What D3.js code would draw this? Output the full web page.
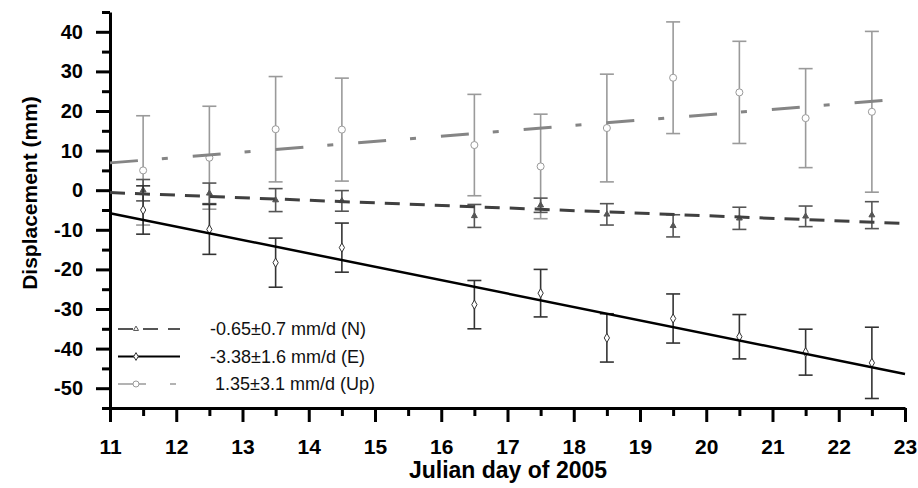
<!DOCTYPE html>
<html>
<head>
<meta charset="utf-8">
<script src="https://cdn.jsdelivr.net/npm/d3@7"></script>
<style>
  body { margin: 0; background: #fff; }
  text { font-family: "Liberation Sans", Arial, sans-serif; }
</style>
</head>
<body>
<script>
// days of the daily solutions
const days = [11.5, 12.5, 13.5, 14.5, 16.5, 17.5, 18.5, 19.5, 20.5, 21.5, 22.5];
// north component (mm) and its error
const northVal = [0.0, -0.8, -2.5, -2.7, -6.5, -3.8, -6.1, -9.0, -7.1, -6.6, -6.3];
const northErr = [2.7, 2.6, 2.9, 2.6, 2.9, 1.8, 2.7, 2.8, 2.8, 2.6, 3.4];
// east component
const eastVal = [-5.0, -9.9, -18.3, -14.5, -28.9, -26.0, -37.3, -32.4, -37.0, -40.9, -43.6];
const eastErr = [6.1, 6.3, 6.2, 6.2, 6.1, 6.0, 6.1, 6.2, 5.6, 5.8, 9.0];
// up component
const upVal = [5.0, 8.2, 15.4, 15.3, 11.4, 6.0, 15.7, 28.4, 24.7, 18.2, 19.8];
const upErr = [13.8, 13.0, 13.3, 13.0, 12.8, 13.2, 13.6, 14.1, 12.9, 12.5, 20.3];
// fitted trend lines, value at start and end of the axis
const fitDays = [11, 23];
const northFit = [-0.6, -8.4];
const eastFit = [-5.8, -46.4];
const upFit = [6.9, 23.1];
// tick labels and legend
const xTicks = [11, 12, 13, 14, 15, 16, 17, 18, 19, 20, 21, 22, 23];
const yTicks = [-50, -40, -30, -20, -10, 0, 10, 20, 30, 40];
const legendLabels = ["-0.65\u00b10.7 mm/d (N)", "-3.38\u00b11.6 mm/d (E)", " 1.35\u00b13.1 mm/d (Up)"];

const svgWidth = 918;
const svgHeight = 488;
const plotLeft = 110, plotRight = 905, plotTop = 12, plotBottom = 408;

const svg = d3.select("body").append("svg")
            .attr("width", svgWidth)
            .attr("height", svgHeight);

var xScale = d3.scaleLinear().domain([11, 23]).range([plotLeft, plotRight]);
var yScale = d3.scaleLinear().domain([-55, 45]).range([plotBottom, plotTop]);

// style of each series
const series = [
  {val: upVal, err: upErr, fit: upFit, bar: "#9a9a9a", line: "#858585", lw: 3, dash: "28,24,6,25", mark: "circle"},
  {val: northVal, err: northErr, fit: northFit, bar: "#555", line: "#404040", lw: 3, dash: "15,10", mark: "triangle"},
  {val: eastVal, err: eastErr, fit: eastFit, bar: "#333", line: "#000", lw: 2.5, dash: null, mark: "diamond"}
];

const line = d3.line()
             .x(function(d) {return xScale(d[0]);})
             .y(function(d) {return yScale(d[1]);});

createAxes();
series.forEach(drawErrorBars);
series.forEach(drawFit);
createLegend();

function markerPath(kind, size) {
  if (kind == "circle") return d3.symbol().type(d3.symbolCircle).size(size * 1.3)();
  if (kind == "triangle") return d3.symbol().type(d3.symbolTriangle).size(size * 0.5)();
  return d3.symbol().type(d3.symbolDiamond).size(size * 0.8)();
}

function drawErrorBars(s) {
  let g = svg.append("g").attr("stroke", s.bar).attr("stroke-width", 1.6).attr("fill", "none");
  days.forEach(function(d, i) {
    let x = xScale(d);
    let y1 = yScale(s.val[i] + s.err[i]);
    let y2 = yScale(s.val[i] - s.err[i]);
    g.append("line").attr("x1", x).attr("x2", x).attr("y1", y1).attr("y2", y2);
    g.append("line").attr("x1", x - 7).attr("x2", x + 7).attr("y1", y1).attr("y2", y1);
    g.append("line").attr("x1", x - 7).attr("x2", x + 7).attr("y1", y2).attr("y2", y2);
    g.append("path")
     .attr("d", markerPath(s.mark, 30))
     .attr("fill", s.mark == "triangle" ? s.bar : "#fff")
     .attr("stroke-width", 1)
     .attr("transform", "translate(" + x + "," + yScale(s.val[i]) + ")");
  });
}

function drawFit(s) {
  let pts = fitDays.map(function(d, i) {return [d, s.fit[i]];});
  svg.append("path")
     .attr("d", line(pts))
     .attr("stroke", s.line)
     .attr("stroke-width", s.lw)
     .attr("stroke-dasharray", s.dash)
     .attr("fill", "none");
}

function createAxes() {
  let minorX = d3.range(11.5, 23, 1);
  let minorY = d3.range(-55, 46, 10);
  let plain = function(d) {return String(d);}; // hyphen minus like the original
  svg.append("g")
     .attr("transform", "translate(0," + plotBottom + ")")
     .call(d3.axisBottom(xScale).tickValues(minorX).tickSize(8).tickFormat(""))
     .call(g => g.select(".domain").remove());
  svg.append("g")
     .attr("transform", "translate(" + plotLeft + ",0)")
     .call(d3.axisLeft(yScale).tickValues(minorY).tickSize(8).tickFormat(""))
     .call(g => g.select(".domain").remove());
  let xa = svg.append("g")
     .attr("transform", "translate(0," + plotBottom + ")")
     .call(d3.axisBottom(xScale).tickValues(xTicks).tickSize(14).tickSizeOuter(0).tickPadding(17).tickFormat(plain));
  let ya = svg.append("g")
     .attr("transform", "translate(" + plotLeft + ",0)")
     .call(d3.axisLeft(yScale).tickValues(yTicks).tickSize(14).tickSizeOuter(0).tickPadding(13).tickFormat(plain));
  svg.selectAll(".tick line").attr("stroke", "#000").attr("stroke-width", 3);
  svg.selectAll(".domain").attr("stroke", "#000").attr("stroke-width", 3);
  xa.selectAll("text").attr("font-size", 21).attr("font-weight", "bold").attr("fill", "#000")
    .attr("font-family", "'Liberation Sans', Arial, sans-serif");
  ya.selectAll("text").attr("font-size", 20).attr("font-weight", "bold").attr("fill", "#000")
    .attr("font-family", "'Liberation Sans', Arial, sans-serif");

  svg.append("text")
     .attr("x", 508)
     .attr("y", 478)
     .attr("text-anchor", "middle")
     .attr("font-size", 23)
     .attr("font-weight", "bold")
     .text("Julian day of 2005");
  svg.append("text")
     .attr("transform", "translate(37,193) rotate(-90)")
     .attr("text-anchor", "middle")
     .attr("font-size", 21)
     .attr("font-weight", "bold")
     .text("Displacement (mm)");
}

function createLegend() {
  // legend rows in the order N, E, Up
  let order = [1, 2, 0];
  let widths = [1.8, 2.2, 1.4];
  order.forEach(function(k, i) {
    let s = series[k];
    let y = 329 + i * 27.5;
    svg.append("line")
       .attr("x1", 118).attr("x2", 180).attr("y1", y).attr("y2", y)
       .attr("stroke", s.line == "#000" ? "#000" : s.bar)
       .attr("stroke-width", widths[i])
       .attr("stroke-dasharray", s.dash);
    svg.append("path")
       .attr("d", markerPath(s.mark, 22))
       .attr("fill", "#fff")
       .attr("stroke", s.bar)
       .attr("stroke-width", 1)
       .attr("transform", "translate(136," + y + ")");
    svg.append("text")
       .attr("x", 210).attr("y", y + 6)
       .attr("font-size", 18)
       .attr("fill", "#111")
       .style("white-space", "pre")
       .text(legendLabels[i]);
  });
}
</script>
</body>
</html>
